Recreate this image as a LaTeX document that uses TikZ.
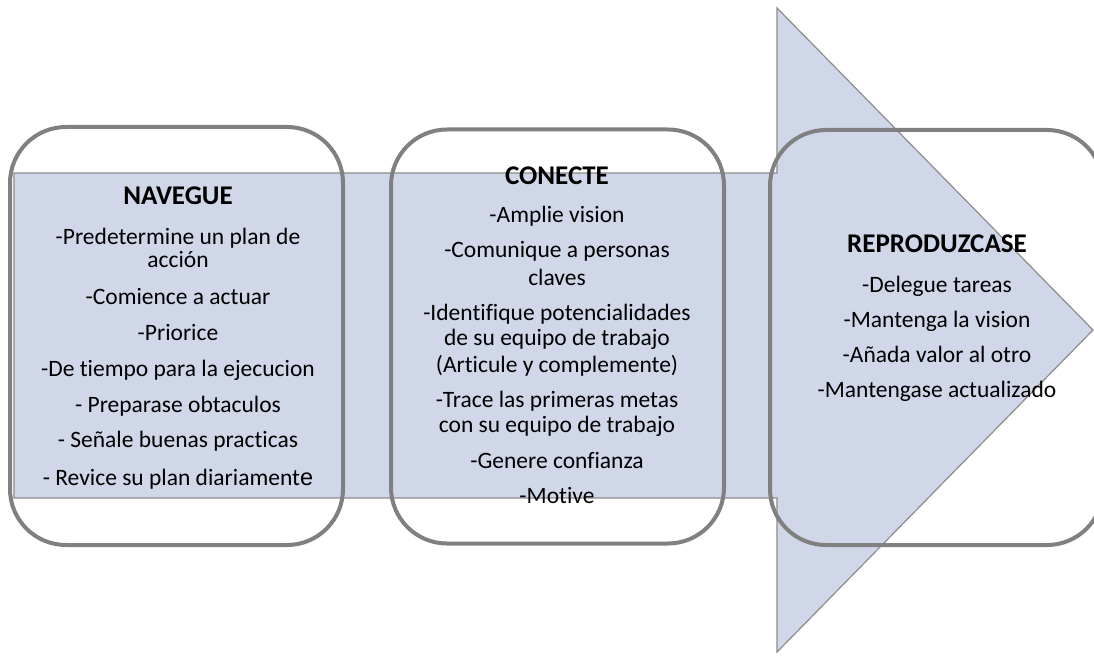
\documentclass[tikz,border=0pt]{standalone}
\usepackage{fontspec}
\setmainfont{Carlito}[Ligatures={NoCommon}]
\newfontfamily\altfont{Liberation Sans}
\definecolor{bandfill}{RGB}{208,215,232}
\definecolor{bandline}{RGB}{140,140,140}
\definecolor{boxline}{RGB}{128,128,128}
\begin{document}
\begin{tikzpicture}[x=1pt,y=-1pt,
  arrowshape/.style={fill=bandfill, draw=bandline, line width=1.2pt, line join=miter},
  stage/.style={draw=boxline, line width=4pt, rounded corners=56pt, minimum width=333pt, inner sep=0pt},
  txtline/.style={anchor=base, font=\fontsize{23.5}{27}\selectfont, text=black, inner sep=0pt},
  head/.style={txtline, font=\fontsize{27}{30}\selectfont\bfseries}]
\useasboundingbox (0,0) rectangle (1094,660);
\clip (0,0) rectangle (1094,660);

% block arrow: shaft and head
\draw[arrowshape] (14,173) -- (777,173) -- (777,8) -- (1093,330) -- (777,652) -- (777,498) -- (14,498) -- cycle;

% the three stages
\node[stage, minimum height=418pt] (nav) at (176.5,336) {};
\node[stage, minimum height=414pt] (con) at (557.5,336.5) {};
\node[stage, minimum height=415pt] (rep) at (936.5,337.5) {};

% NAVEGUE
\node[head] (navh) at (178,205) {NAVEGUE};
\foreach \y/\t [count=\i] in {244/{-Predetermine un plan de}, 268/{acción}, 304/{-Comience a actuar},
  340/{-Priorice}, 376/{-De tiempo para la ejecucion}, 412/{- Preparase obtaculos},
  447/{- Señale buenas practicas}, 485/{- Revice su plan diariament{\altfont e}}}
  \node[txtline] (nav-\i) at (178,\y) {\t};

% CONECTE
\node[head] (conh) at (557,185) {CONECTE};
\foreach \y/\t [count=\i] in {223/{-Amplie vision}, 258/{-Comunique a personas}, 285/{claves},
  320/{-Identifique potencialidades}, 345/{de su equipo de trabajo}, 372/{(Articule y complemente)},
  407/{-Trace las primeras metas}, 432/{con su equipo de trabajo}, 468/{-Genere confianza},
  503/{-Motive}}
  \node[txtline] (con-\i) at (557,\y) {\t};

% REPRODUZCASE
\node[head] (reph) at (937,252) {REPRODUZCASE};
\foreach \y/\t [count=\i] in {292/{-Delegue tareas}, 327/{-Mantenga la vision},
  362/{-Añada valor al otro}, 397/{-Mantengase actualizado}}
  \node[txtline] (rep-\i) at (937,\y) {\t};
\end{tikzpicture}
\end{document}
